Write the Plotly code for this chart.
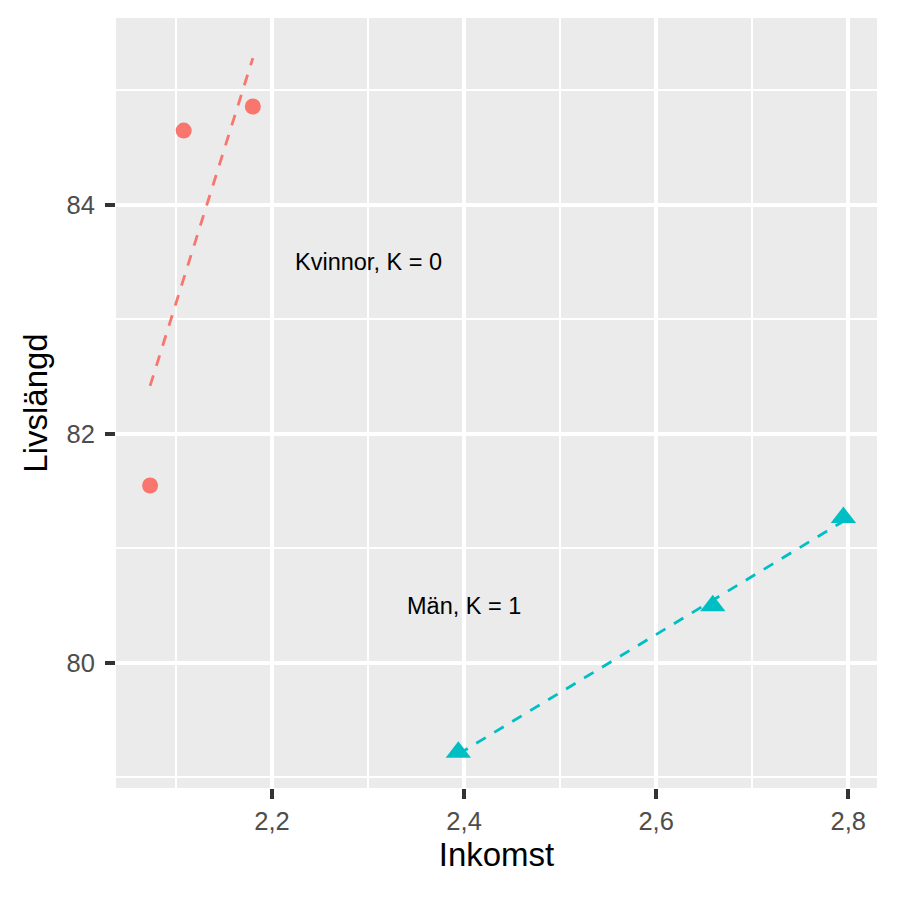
import numpy as np
import plotly.graph_objects as go

# Data
kvinnor_x = [2.073, 2.108, 2.180]
kvinnor_y = [81.55, 84.65, 84.86]
man_x = [2.394, 2.659, 2.795]
man_y = [79.22, 80.50, 81.27]

labels = ["Kvinnor, K = 0", "Män, K = 1"]
label_x = [2.30, 2.40]
label_y = [83.5, 80.5]

x_ticks = [2.2, 2.4, 2.6, 2.8]
x_ticktext = ["2,2", "2,4", "2,6", "2,8"]
x_minor = [2.1, 2.3, 2.5, 2.7]
y_ticks = [80, 82, 84]
y_minor = [79, 81, 83, 85]

red = "#F8766D"
cyan = "#00BFC4"
FONT = "Liberation Sans, Arial, sans-serif"

fig = go.Figure()

def fit_line(xs, ys):
    b, a = np.polyfit(xs, ys, 1)
    x0, x1 = min(xs), max(xs)
    return [x0, x1], [a + b * x0, a + b * x1]

for xs, ys, col, sym, sz in [(kvinnor_x, kvinnor_y, red, "circle", 16),
                              (man_x, man_y, cyan, "triangle-up", 22)]:
    lx, ly = fit_line(xs, ys)
    fig.add_trace(go.Scatter(x=lx, y=ly, mode="lines",
                             line=dict(color=col, width=2.8, dash="11px,10px"),
                             showlegend=False, hoverinfo="skip"))
    fig.add_trace(go.Scatter(x=xs, y=ys, mode="markers",
                             marker=dict(color=col, symbol=sym, size=sz, line=dict(width=0)),
                             showlegend=False))

for t, x, y in zip(labels, label_x, label_y):
    fig.add_annotation(x=x, y=y, text=t, showarrow=False,
                       font=dict(family=FONT, size=23.5, color="black"))

axis_common = dict(
    showgrid=True, gridcolor="white", gridwidth=4.2,
    zeroline=False, showline=False,
    ticks="outside", ticklen=10, tickwidth=4, tickcolor="#333333",
    tickfont=dict(family=FONT, size=25.5, color="#4D4D4D"),
)

fig.update_xaxes(
    range=[2.0375, 2.830], tickvals=x_ticks, ticktext=x_ticktext,
    title=dict(text="Inkomst", font=dict(family=FONT, size=33, color="black"), standoff=9),
    minor=dict(tickvals=x_minor, showgrid=True, gridcolor="white", gridwidth=2.1, ticks=""),
    **axis_common,
)
fig.update_yaxes(
    range=[78.908, 85.633], tickvals=y_ticks, ticklabelstandoff=5,
    title=dict(text="Livslängd", font=dict(family=FONT, size=33, color="black"), standoff=8),
    minor=dict(tickvals=y_minor, showgrid=True, gridcolor="white", gridwidth=2.1, ticks=""),
    **axis_common,
)

fig.update_layout(
    width=900, height=900,
    margin=dict(l=108, r=31, t=10, b=120),
    plot_bgcolor="#EBEBEB", paper_bgcolor="white",
    showlegend=False,
)

fig.write_html("out.html")
